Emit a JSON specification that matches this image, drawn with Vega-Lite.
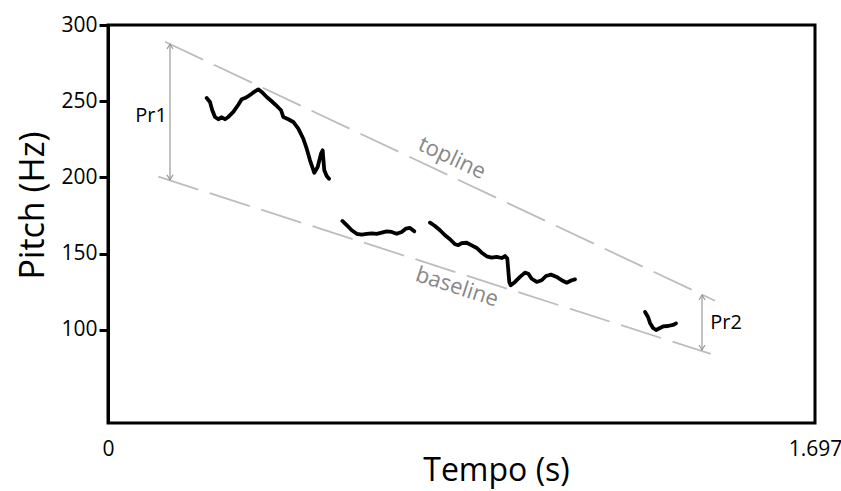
{
  "$schema": "https://vega.github.io/schema/vega-lite/v6.json",
  "width": 707,
  "height": 398,
  "autosize": {"type": "none"},
  "padding": {"left": 108, "top": 25, "right": 26, "bottom": 68},
  "background": "white",
  "config": {
    "font": "Open Sans",
    "view": {"stroke": "black", "strokeWidth": 3},
    "axis": {"grid": false, "labelColor": "black", "titleColor": "black", "labelFont": "Open Sans", "titleFont": "Open Sans"}
  },
  "datasets": {
    "contour": [
      {"seg": 1, "t": 0.2369, "hz": 252.1},
      {"seg": 1, "t": 0.2448, "hz": 249.5},
      {"seg": 1, "t": 0.2503, "hz": 244.1},
      {"seg": 1, "t": 0.2568, "hz": 239.7},
      {"seg": 1, "t": 0.2648, "hz": 238.2},
      {"seg": 1, "t": 0.2729, "hz": 239.5},
      {"seg": 1, "t": 0.2808, "hz": 238.2},
      {"seg": 1, "t": 0.2888, "hz": 239.7},
      {"seg": 1, "t": 0.3008, "hz": 243.0},
      {"seg": 1, "t": 0.3128, "hz": 247.7},
      {"seg": 1, "t": 0.3209, "hz": 251.3},
      {"seg": 1, "t": 0.3288, "hz": 252.1},
      {"seg": 1, "t": 0.3368, "hz": 253.4},
      {"seg": 1, "t": 0.3449, "hz": 254.9},
      {"seg": 1, "t": 0.3528, "hz": 256.5},
      {"seg": 1, "t": 0.3608, "hz": 257.8},
      {"seg": 1, "t": 0.3689, "hz": 256.1},
      {"seg": 1, "t": 0.3809, "hz": 252.8},
      {"seg": 1, "t": 0.3929, "hz": 250.0},
      {"seg": 1, "t": 0.4049, "hz": 246.9},
      {"seg": 1, "t": 0.4153, "hz": 244.1},
      {"seg": 1, "t": 0.4208, "hz": 239.7},
      {"seg": 1, "t": 0.4328, "hz": 238.2},
      {"seg": 1, "t": 0.4448, "hz": 236.4},
      {"seg": 1, "t": 0.4568, "hz": 232.0},
      {"seg": 1, "t": 0.4688, "hz": 225.4},
      {"seg": 1, "t": 0.4769, "hz": 218.9},
      {"seg": 1, "t": 0.4849, "hz": 211.3},
      {"seg": 1, "t": 0.4952, "hz": 203.1},
      {"seg": 1, "t": 0.5033, "hz": 206.9},
      {"seg": 1, "t": 0.5113, "hz": 215.6},
      {"seg": 1, "t": 0.5153, "hz": 217.8},
      {"seg": 1, "t": 0.5168, "hz": 212.3},
      {"seg": 1, "t": 0.5192, "hz": 204.7},
      {"seg": 1, "t": 0.5249, "hz": 201.0},
      {"seg": 1, "t": 0.5305, "hz": 199.2},
      {"seg": 2, "t": 0.5624, "hz": 171.5},
      {"seg": 2, "t": 0.5730, "hz": 168.7},
      {"seg": 2, "t": 0.5850, "hz": 165.4},
      {"seg": 2, "t": 0.5970, "hz": 163.1},
      {"seg": 2, "t": 0.6090, "hz": 162.5},
      {"seg": 2, "t": 0.6210, "hz": 163.0},
      {"seg": 2, "t": 0.6330, "hz": 163.4},
      {"seg": 2, "t": 0.6450, "hz": 163.0},
      {"seg": 2, "t": 0.6570, "hz": 163.8},
      {"seg": 2, "t": 0.6690, "hz": 164.7},
      {"seg": 2, "t": 0.6810, "hz": 164.3},
      {"seg": 2, "t": 0.6930, "hz": 163.1},
      {"seg": 2, "t": 0.7050, "hz": 164.3},
      {"seg": 2, "t": 0.7146, "hz": 166.4},
      {"seg": 2, "t": 0.7249, "hz": 166.9},
      {"seg": 2, "t": 0.7352, "hz": 164.7},
      {"seg": 3, "t": 0.7729, "hz": 170.4},
      {"seg": 3, "t": 0.7849, "hz": 168.2},
      {"seg": 3, "t": 0.7969, "hz": 165.4},
      {"seg": 3, "t": 0.8089, "hz": 162.1},
      {"seg": 3, "t": 0.8209, "hz": 159.5},
      {"seg": 3, "t": 0.8329, "hz": 156.2},
      {"seg": 3, "t": 0.8408, "hz": 155.6},
      {"seg": 3, "t": 0.8490, "hz": 157.0},
      {"seg": 3, "t": 0.8610, "hz": 157.2},
      {"seg": 3, "t": 0.8730, "hz": 155.5},
      {"seg": 3, "t": 0.8850, "hz": 153.8},
      {"seg": 3, "t": 0.8970, "hz": 150.7},
      {"seg": 3, "t": 0.9090, "hz": 148.3},
      {"seg": 3, "t": 0.9210, "hz": 147.4},
      {"seg": 3, "t": 0.9330, "hz": 147.9},
      {"seg": 3, "t": 0.9450, "hz": 147.2},
      {"seg": 3, "t": 0.9529, "hz": 148.5},
      {"seg": 3, "t": 0.9584, "hz": 146.8},
      {"seg": 3, "t": 0.9608, "hz": 139.1},
      {"seg": 3, "t": 0.9632, "hz": 131.5},
      {"seg": 3, "t": 0.9666, "hz": 129.3},
      {"seg": 3, "t": 0.9769, "hz": 131.5},
      {"seg": 3, "t": 0.9889, "hz": 134.8},
      {"seg": 3, "t": 1.0009, "hz": 137.6},
      {"seg": 3, "t": 1.0089, "hz": 136.9},
      {"seg": 3, "t": 1.0170, "hz": 133.6},
      {"seg": 3, "t": 1.0290, "hz": 131.5},
      {"seg": 3, "t": 1.0410, "hz": 132.6},
      {"seg": 3, "t": 1.0513, "hz": 135.4},
      {"seg": 3, "t": 1.0633, "hz": 136.3},
      {"seg": 3, "t": 1.0770, "hz": 134.8},
      {"seg": 3, "t": 1.0890, "hz": 132.6},
      {"seg": 3, "t": 1.1010, "hz": 131.0},
      {"seg": 3, "t": 1.1130, "hz": 132.6},
      {"seg": 3, "t": 1.1209, "hz": 133.2},
      {"seg": 4, "t": 1.2890, "hz": 111.8},
      {"seg": 4, "t": 1.2962, "hz": 108.5},
      {"seg": 4, "t": 1.3010, "hz": 104.6},
      {"seg": 4, "t": 1.3082, "hz": 101.3},
      {"seg": 4, "t": 1.3154, "hz": 100.0},
      {"seg": 4, "t": 1.3226, "hz": 101.0},
      {"seg": 4, "t": 1.3322, "hz": 102.3},
      {"seg": 4, "t": 1.3442, "hz": 102.6},
      {"seg": 4, "t": 1.3562, "hz": 103.3},
      {"seg": 4, "t": 1.3634, "hz": 104.3}
    ],
    "refs": [
      {"name": "topline", "t": 0.1368, "hz": 289.0},
      {"name": "topline", "t": 1.4570, "hz": 119.2},
      {"name": "baseline", "t": 0.1208, "hz": 200.5},
      {"name": "baseline", "t": 1.4467, "hz": 84.3}
    ],
    "ranges": [
      {"label": "Pr1", "t": 0.1488, "hz": 198.4, "hz2": 287.5},
      {"label": "Pr2", "t": 1.4258, "hz": 86.9, "hz2": 122.95}
    ],
    "rangeLabels": [
      {"label": "Pr1", "t": 0.1032, "hz": 240.3},
      {"label": "Pr2", "t": 1.4834, "hz": 104.6}
    ],
    "toplineLabel": [{"label": "topline", "t": 0.8257, "hz": 212.8}],
    "baselineLabel": [{"label": "baseline", "t": 0.8377, "hz": 128.2}]
  },
  "encoding": {
    "x": {
      "field": "t", "type": "quantitative",
      "scale": {"domain": [0, 1.697], "nice": false, "zero": false},
      "axis": {
        "values": [0, 1.697], "labelExpr": "datum.value == 0 ? '0' : '1.697'", "domain": false, "ticks": false,
        "labelPadding": 15, "labelFontSize": 21, "labelFlush": false,
        "title": "Tempo (s)", "titleFontSize": 32, "titleFontWeight": "normal",
        "titleX": 388, "titleY": 57, "titleBaseline": "alphabetic", "titleAlign": "center", "titleAnchor": null
      }
    },
    "y": {
      "field": "hz", "type": "quantitative",
      "scale": {"domain": [39, 300], "nice": false, "zero": false},
      "axis": {
        "values": [100, 150, 200, 250, 300], "domain": true, "domainColor": "black", "domainWidth": 3,
        "ticks": true, "tickColor": "black", "tickWidth": 3, "tickSize": 9,
        "labelPadding": 2, "labelFontSize": 21, "labelFlush": false,
        "title": "Pitch (Hz)", "titleFontSize": 34, "titleFontWeight": "normal",
        "titleAngle": -90, "titleX": -65, "titleY": 180, "titleBaseline": "alphabetic", "titleAlign": "center", "titleAnchor": null
      }
    }
  },
  "layer": [
    {
      "data": {"name": "refs"},
      "mark": {"type": "line", "color": "#bdbdbd", "strokeWidth": 1.8, "strokeDash": [42, 12]},
      "encoding": {"detail": {"field": "name"}}
    },
    {
      "data": {"name": "ranges"},
      "mark": {"type": "rule", "color": "#999999", "strokeWidth": 1.2},
      "encoding": {"y2": {"field": "hz2"}}
    },
    {
      "data": {"name": "ranges"},
      "mark": {"type": "point", "shape": "M-0.6,1L0,0L0.6,1", "filled": false, "color": "#999999", "strokeWidth": 1.2, "size": 100, "opacity": 1},
      "encoding": {"y": {"field": "hz2", "type": "quantitative"}}
    },
    {
      "data": {"name": "ranges"},
      "mark": {"type": "point", "shape": "M-0.6,-1L0,0L0.6,-1", "filled": false, "color": "#999999", "strokeWidth": 1.2, "size": 100, "opacity": 1}
    },
    {
      "data": {"name": "contour"},
      "mark": {"type": "line", "color": "black", "strokeWidth": 3.8, "strokeCap": "round", "strokeJoin": "round"},
      "encoding": {"detail": {"field": "seg"}}
    },
    {
      "data": {"name": "rangeLabels"},
      "mark": {"type": "text", "fontSize": 20, "color": "black", "align": "center", "baseline": "middle"},
      "encoding": {"text": {"field": "label"}}
    },
    {
      "data": {"name": "toplineLabel"},
      "mark": {"type": "text", "fontSize": 22, "color": "#888888", "angle": 25, "align": "center", "baseline": "middle"},
      "encoding": {"text": {"field": "label"}}
    },
    {
      "data": {"name": "baselineLabel"},
      "mark": {"type": "text", "fontSize": 22, "color": "#888888", "angle": 18, "align": "center", "baseline": "middle"},
      "encoding": {"text": {"field": "label"}}
    }
  ]
}
